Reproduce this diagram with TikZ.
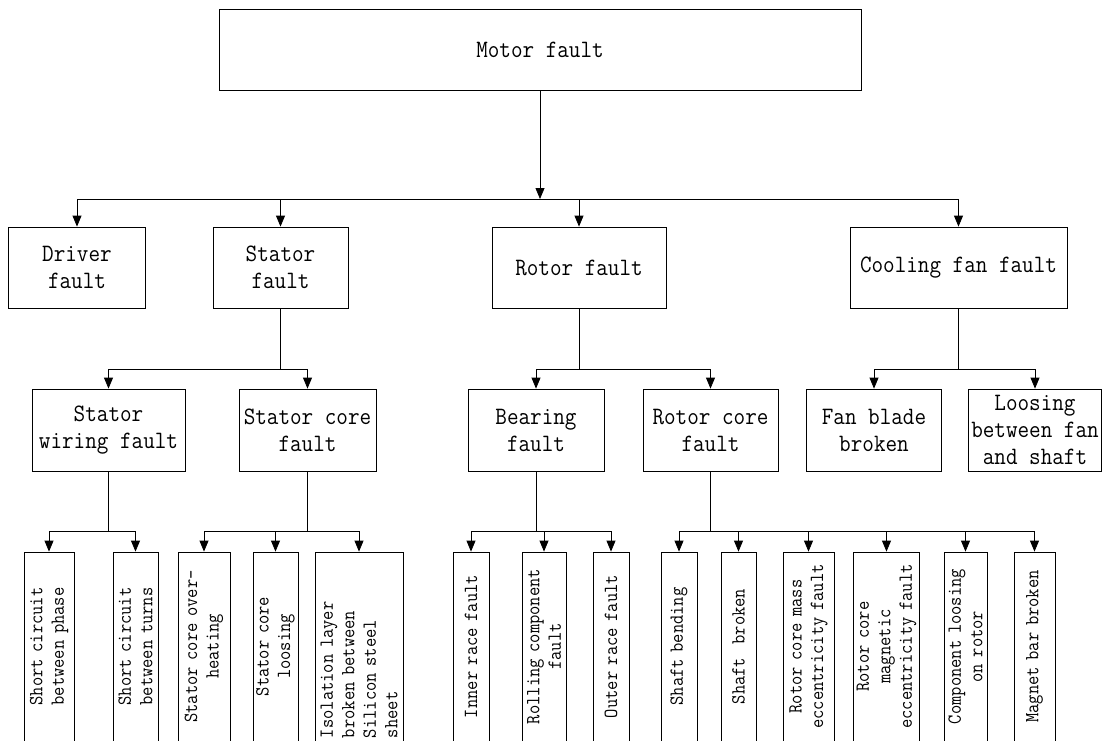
\documentclass[tikz,border=0pt]{standalone}
\usepackage{fontspec}
\setmonofont[FakeStretch=0.9]{Latin Modern Mono}
\usetikzlibrary{arrows.meta,positioning}

\begin{document}
\begin{tikzpicture}[x=1pt,y=-1pt,line width=0.8pt,
  box/.style={draw,align=center,inner sep=1pt,font=\fontsize{25}{27}\ttfamily},
  leaf/.style={draw,rotate=90,text width=183pt,inner sep=3pt,align=center,
    font=\fontsize{20}{21.5}\ttfamily},
  arr/.style={-{Triangle[width=9pt,length=11pt]}}]
\clip (0,0) rectangle (1103,740);

% top
\node[box,minimum width=642pt,minimum height=81pt] (motor) at (540,49.5) {Motor fault};

% second level
\node[box,minimum width=137pt,minimum height=81pt] (driver) at (77,267.5) {Driver\\fault};
\node[box,minimum width=135pt,minimum height=81pt] (stator) at (280.5,267.5) {Stator\\fault};
\node[box,minimum width=174pt,minimum height=81pt] (rotor) at (579,267.5) {Rotor fault};
\node[box,minimum width=217pt,minimum height=81pt] (cooling) at (958.5,267.5) {Cooling fan fault};

% third level
\node[box,minimum width=153pt,minimum height=82pt] (wiring) at (108.5,430) {Stator\\wiring fault};
\node[box,minimum width=137pt,minimum height=82pt] (statorcore) at (307.5,430) {Stator core\\fault};
\node[box,minimum width=136pt,minimum height=82pt] (bearing) at (536,430) {Bearing\\fault};
\node[box,minimum width=135pt,minimum height=82pt] (rotorcore) at (710.5,430) {Rotor core\\fault};
\node[box,minimum width=135pt,minimum height=82pt] (blade) at (874,430) {Fan blade\\broken};
\node[box,minimum width=133pt,minimum height=82pt] (fanshaft) at (1035,430) {Loosing\\between fan\\and shaft};

% leaves
\node[leaf,minimum height=50pt] (phase) at (49,646.5) {Short circuit\\between phase};
\node[leaf,minimum height=45pt] (turns) at (135.5,646.5) {Short circuit\\between turns};
\node[leaf,minimum height=52pt] (heating) at (204,646.5) {Stator core over-\\heating};
\node[leaf,minimum height=45pt] (loosing) at (275.5,646.5) {Stator core\\loosing};
\node[leaf,minimum height=88pt,align=left] (isolation) at (359,646.5) {Isolation layer\\broken between\\Silicon steel\\sheet};
\node[leaf,minimum height=36pt] (inner) at (471,646.5) {Inner race fault};
\node[leaf,minimum height=44pt] (rolling) at (544,646.5) {Rolling component\\fault};
\node[leaf,minimum height=36pt] (outer) at (611,646.5) {Outer race fault};
\node[leaf,minimum height=36pt] (bending) at (679,646.5) {Shaft bending};
\node[leaf,minimum height=35pt] (broken) at (738.5,646.5) {Shaft\ \ broken};
\node[leaf,minimum height=51pt] (mass) at (808.5,646.5) {Rotor core mass\\eccentricity fault};
\node[leaf,minimum height=65pt] (magnetic) at (886.5,646.5) {Rotor core\\magnetic\\eccentricity fault};
\node[leaf,minimum height=43pt] (component) at (965.5,646.5) {Component loosing\\on rotor};
\node[leaf,minimum height=41pt] (magnet) at (1034.5,646.5) {Magnet bar broken};

\coordinate (bus0) at (0,199);
\coordinate (bus1) at (0,369);
\coordinate (bus2) at (0,531);

% connectors
\draw[arr] (motor.south) -- (motor.south |- bus0);
\draw (driver.north |- bus0) -- (cooling.north |- bus0);
\foreach \n in {driver,stator,rotor,cooling}
  \draw[arr] (\n.north |- bus0) -- (\n.north);

\draw (stator.south) -- (stator.south |- bus1);
\draw (wiring.north |- bus1) -- (statorcore.north |- bus1);
\draw (rotor.south) -- (rotor.south |- bus1);
\draw (bearing.north |- bus1) -- (rotorcore.north |- bus1);
\draw (cooling.south) -- (cooling.south |- bus1);
\draw (blade.north |- bus1) -- (fanshaft.north |- bus1);
\foreach \n in {wiring,statorcore,bearing,rotorcore,blade,fanshaft}
  \draw[arr] (\n.north |- bus1) -- (\n.north);

\draw (wiring.south) -- (wiring.south |- bus2);
\draw (phase.east |- bus2) -- (turns.east |- bus2);
\draw (statorcore.south) -- (statorcore.south |- bus2);
\draw (heating.east |- bus2) -- (isolation.east |- bus2);
\draw (bearing.south) -- (bearing.south |- bus2);
\draw (inner.east |- bus2) -- (outer.east |- bus2);
\draw (rotorcore.south) -- (rotorcore.south |- bus2);
\draw (bending.east |- bus2) -- (magnet.east |- bus2);
\foreach \n in {phase,turns,heating,loosing,isolation,inner,rolling,outer,
  bending,broken,mass,magnetic,component,magnet}
  \draw[arr] (\n.east |- bus2) -- (\n.east);
\end{tikzpicture}
\end{document}
